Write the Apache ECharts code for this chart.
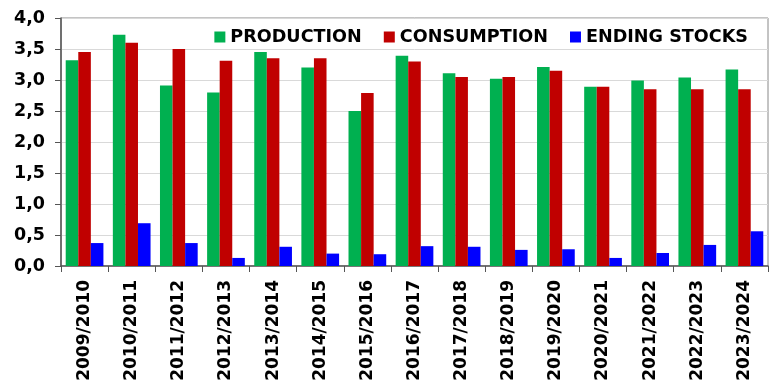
<!DOCTYPE html>
<html>
<head>
<meta charset="utf-8">
<script src="https://cdn.jsdelivr.net/npm/echarts@6/dist/echarts.min.js"></script>
<style>
  html, body { margin: 0; padding: 0; background: #fff; }
  #chart { width: 769px; height: 384px; }
</style>
</head>
<body>
<div id="chart"></div>
<script>
// 数据
const seasons = ['2009/2010', '2010/2011', '2011/2012', '2012/2013', '2013/2014', '2014/2015', '2015/2016',
    '2016/2017', '2017/2018', '2018/2019', '2019/2020', '2020/2021', '2021/2022', '2022/2023', '2023/2024'];
const production = [3.32, 3.73, 2.91, 2.80, 3.45, 3.20, 2.50, 3.39, 3.11, 3.02, 3.21, 2.89, 2.99, 3.04, 3.17];
const consumption = [3.45, 3.60, 3.50, 3.31, 3.35, 3.35, 2.79, 3.30, 3.05, 3.05, 3.15, 2.89, 2.85, 2.85, 2.85];
const endingStocks = [0.37, 0.69, 0.37, 0.13, 0.31, 0.20, 0.19, 0.32, 0.31, 0.26, 0.27, 0.13, 0.21, 0.34, 0.56];
const yTicks = { min: 0, max: 4, interval: 0.5 };

const font = 'DejaVu Sans';
const chart = echarts.init(document.getElementById('chart'));

const bar = (name, data, color) => ({
    name: name,
    type: 'bar',
    data: data,
    barGap: '0%',
    barCategoryGap: '20%',
    itemStyle: { color: color },
    emphasis: { disabled: true }
});

chart.setOption({
    animation: false,
    textStyle: { fontFamily: font },
    grid: {
        left: 61, right: 1, top: 18, bottom: 118,
        show: true, borderColor: '#888', borderWidth: 1
    },
    legend: {
        top: 23,
        right: 16,
        itemWidth: 11,
        itemHeight: 11,
        itemGap: 22,
        icon: 'rect',
        textStyle: { fontFamily: font, fontWeight: 'bold', fontSize: 17.6, color: '#000' }
    },
    xAxis: {
        type: 'category',
        data: seasons,
        axisLine: { lineStyle: { color: '#555', width: 1.5 } },
        axisTick: { show: true, length: 6, lineStyle: { color: '#555' } },
        axisLabel: {
            rotate: 90, margin: 14, interval: 0,
            fontFamily: font, fontWeight: 'bold', fontSize: 17, color: '#000'
        }
    },
    yAxis: {
        type: 'value',
        min: yTicks.min, max: yTicks.max, interval: yTicks.interval,
        axisLine: { show: true, lineStyle: { color: '#555', width: 1.5 } },
        axisTick: { show: true, length: 6, lineStyle: { color: '#555' } },
        splitLine: { lineStyle: { color: '#d9d9d9' } },
        axisLabel: {
            margin: 16,
            fontFamily: font, fontWeight: 'bold', fontSize: 17.5, color: '#000',
            formatter: v => v.toFixed(1).replace('.', ',')
        }
    },
    series: [
        bar('PRODUCTION', production, '#00B050'),
        bar('CONSUMPTION', consumption, '#C00000'),
        bar('ENDING STOCKS', endingStocks, '#0000FF')
    ]
});
</script>
</body>
</html>
